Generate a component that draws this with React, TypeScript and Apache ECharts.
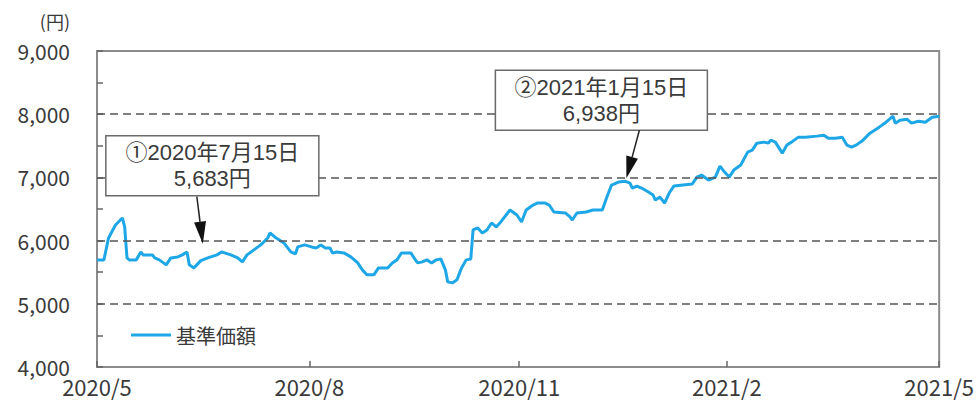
import React, { useEffect, useRef } from "react";
import * as echarts from "echarts";

// ---- data ----
const seriesName = "基準価額";
const unitLabel = "(円)";

const dates = [
  "2020-05-31", "2020-06-03", "2020-06-05", "2020-06-08", "2020-06-11", "2020-06-12", "2020-06-13", "2020-06-14",
  "2020-06-17", "2020-06-19", "2020-06-20", "2020-06-24", "2020-06-25", "2020-06-27", "2020-06-30", "2020-07-02",
  "2020-07-05", "2020-07-07", "2020-07-09", "2020-07-10", "2020-07-12", "2020-07-15", "2020-07-18", "2020-07-22",
  "2020-07-24", "2020-07-28", "2020-07-31", "2020-08-02", "2020-08-04", "2020-08-07", "2020-08-10", "2020-08-13",
  "2020-08-14", "2020-08-16", "2020-08-20", "2020-08-23", "2020-08-25", "2020-08-26", "2020-08-29", "2020-09-01",
  "2020-09-03", "2020-09-05", "2020-09-07", "2020-09-09", "2020-09-10", "2020-09-12", "2020-09-15", "2020-09-18",
  "2020-09-21", "2020-09-23", "2020-09-25", "2020-09-28", "2020-09-30", "2020-10-02", "2020-10-04", "2020-10-06",
  "2020-10-08", "2020-10-10", "2020-10-14", "2020-10-16", "2020-10-17", "2020-10-19", "2020-10-21", "2020-10-23",
  "2020-10-25", "2020-10-27", "2020-10-29", "2020-10-30", "2020-11-01", "2020-11-03", "2020-11-05", "2020-11-07",
  "2020-11-09", "2020-11-10", "2020-11-12", "2020-11-14", "2020-11-16", "2020-11-18", "2020-11-20", "2020-11-22",
  "2020-11-26", "2020-11-29", "2020-12-01", "2020-12-03", "2020-12-06", "2020-12-08", "2020-12-11", "2020-12-13",
  "2020-12-15", "2020-12-20", "2020-12-22", "2020-12-23", "2020-12-25", "2020-12-29", "2021-01-01", "2021-01-05",
  "2021-01-07", "2021-01-09", "2021-01-12", "2021-01-15", "2021-01-17", "2021-01-18", "2021-01-20", "2021-01-22",
  "2021-01-25", "2021-01-27", "2021-01-28", "2021-01-30", "2021-02-01", "2021-02-03", "2021-02-05", "2021-02-09",
  "2021-02-13", "2021-02-15", "2021-02-17", "2021-02-20", "2021-02-23", "2021-02-25", "2021-02-27", "2021-03-01",
  "2021-03-03", "2021-03-06", "2021-03-09", "2021-03-11", "2021-03-13", "2021-03-16", "2021-03-18", "2021-03-19",
  "2021-03-21", "2021-03-24", "2021-03-26", "2021-03-28", "2021-03-31", "2021-04-03", "2021-04-08", "2021-04-11",
  "2021-04-13", "2021-04-16", "2021-04-19", "2021-04-21", "2021-04-23", "2021-04-25", "2021-04-28", "2021-05-01",
  "2021-05-05", "2021-05-08", "2021-05-11", "2021-05-12", "2021-05-14", "2021-05-17", "2021-05-19", "2021-05-22",
  "2021-05-25", "2021-05-28", "2021-05-31",
];

const values = [
  5695, 5695, 6042, 6247, 6358, 6216, 5726, 5695,
  5695, 5821, 5774, 5774, 5726, 5695, 5616, 5726,
  5742, 5774, 5821, 5616, 5568, 5683, 5726, 5774,
  5821, 5774, 5726, 5663, 5774, 5853, 5932, 6042,
  6121, 6058, 5963, 5821, 5789, 5900, 5932, 5900,
  5884, 5932, 5884, 5884, 5805, 5821, 5805, 5742,
  5647, 5537, 5458, 5458, 5568, 5568, 5568, 5647,
  5695, 5805, 5805, 5695, 5647, 5663, 5695, 5647,
  5695, 5710, 5537, 5347, 5331, 5379, 5568, 5695,
  5710, 6168, 6200, 6121, 6168, 6279, 6216, 6295,
  6484, 6405, 6295, 6484, 6563, 6595, 6595, 6563,
  6453, 6437, 6374, 6326, 6437, 6453, 6484, 6484,
  6689, 6879, 6926, 6938, 6910, 6832, 6863, 6832,
  6768, 6721, 6642, 6689, 6595, 6753, 6863, 6879,
  6895, 7005, 7037, 6958, 7005, 7179, 7084, 7005,
  7116, 7195, 7400, 7432, 7542, 7558, 7542, 7589,
  7558, 7384, 7511, 7558, 7637, 7637, 7653, 7668,
  7621, 7621, 7637, 7511, 7479, 7511, 7589, 7700,
  7795, 7874, 7968, 7858, 7905, 7921, 7858, 7889,
  7874, 7953, 7968,
];

const xMinDate = "2020-05-31";
const xMaxDate = "2021-05-31";
const xTickDates = ["2020-05-31", "2020-08-31", "2020-11-30", "2021-02-28", "2021-05-31"];
const xTickLabels = ["2020/5", "2020/8", "2020/11", "2021/2", "2021/5"];

const yMin = 4000;
const yMax = 9000;
const yStep = 1000;
const gridValues = [5000, 6000, 7000, 8000];

const annotationDates = ["2020-07-15", "2021-01-15"];
const annotationValues = [5683, 6938];
const annotationTitles = ["①2020年7月15日", "②2021年1月15日"];
const annotationValueLabels = ["5,683円", "6,938円"];

// ---- layout (pixels, relative to the annotated point) ----
const annotationLayout = [
  { boxDx: -95, boxDy: -125, w: 213, h: 60, fromDx: -4, fromDy: -64, tipDx: 2, tipDy: -17 },
  { boxDx: -130, boxDy: -111, w: 212, h: 60, fromDx: 14, fromDy: -51, tipDx: 1, tipDy: -3 },
];

const FONT = '"Noto Sans CJK JP", "Noto Sans", sans-serif';
const NOTE_FONT = '"Liberation Sans", "Noto Sans CJK JP", sans-serif';
const TEXT = "#3a3a3a";
const FRAME = "#8c8c8c";
const LINE = "#1ea7e6";

const toTs = (s: string) => {
  const [y, m, d] = s.split("-").map(Number);
  return new Date(y, m - 1, d).getTime();
};

const fmtThousands = (v: number) => String(v).replace(/\B(?=(\d{3})+(?!\d))/g, ",");

export default function App() {
  const ref = useRef<HTMLDivElement>(null);

  useEffect(() => {
    if (!ref.current) return;
    const chart = echarts.init(ref.current, undefined, { renderer: "svg" });
    const tickTs = xTickDates.map(toTs);

    chart.setOption({
      animation: false,
      textStyle: { fontFamily: FONT },
      grid: {
        left: 97,
        right: 37,
        top: 51,
        bottom: 38,
        show: true,
        borderColor: FRAME,
        borderWidth: 2,
      },
      legend: {
        data: [seriesName],
        left: 126,
        top: 320,
        icon: "rect",
        itemWidth: 40,
        itemHeight: 3,
        itemGap: 6,
        textStyle: { fontSize: 20, color: TEXT, fontFamily: FONT },
      },
      xAxis: {
        type: "value",
        min: toTs(xMinDate),
        max: toTs(xMaxDate),
        axisLine: { show: true, lineStyle: { color: FRAME, width: 2 } },
        axisTick: {
          show: true,
          inside: true,
          length: 6,
          customValues: tickTs,
          lineStyle: { color: "#666", width: 1.5 },
        },
        axisLabel: {
          customValues: tickTs,
          showMinLabel: true,
          showMaxLabel: true,
          fontSize: 22,
          color: TEXT,
          fontFamily: FONT,
          margin: 8,
          formatter: (v: number) => {
            const i = tickTs.findIndex((t) => Math.abs(t - v) < 86400000);
            return i >= 0 ? xTickLabels[i] : "";
          },
        },
        splitLine: { show: false },
      },
      yAxis: {
        type: "value",
        min: yMin,
        max: yMax,
        interval: yStep,
        axisLine: { show: true, lineStyle: { color: FRAME, width: 2 } },
        axisTick: { show: true, inside: true, length: 6, lineStyle: { color: "#666", width: 1.5 } },
        minorTick: { show: true, splitNumber: 2, length: 6, lineStyle: { color: "#666", width: 1.5 } },
        axisLabel: {
          fontSize: 21,
          color: TEXT,
          fontFamily: FONT,
          margin: 27,
          formatter: (v: number) => fmtThousands(v),
        },
        splitLine: { show: false },
      },
      series: [
        {
          name: "grid",
          type: "line",
          data: [],
          z: 1,
          silent: true,
          markLine: {
            silent: true,
            symbol: ["none", "none"],
            label: { show: false },
            lineStyle: { type: [8, 5], color: "#555", width: 1.5 },
            data: gridValues.map((v) => ({ yAxis: v })),
          },
        },
        {
          name: seriesName,
          type: "line",
          z: 3,
          showSymbol: false,
          symbol: "none",
          lineStyle: { color: LINE, width: 3 },
          itemStyle: { color: LINE },
          data: dates.map((d, i) => [toTs(d), values[i]]),
        },
      ],
    });

    const elements: any[] = [
      {
        type: "text",
        x: 70,
        y: 21,
        z: 10,
        style: {
          text: unitLabel,
          fontSize: 18,
          fontFamily: FONT,
          fill: TEXT,
          align: "right",
          textAlign: "right",
          verticalAlign: "middle",
          textVerticalAlign: "middle",
        },
      },
    ];

    annotationDates.forEach((d, i) => {
      const p = chart.convertToPixel({ gridIndex: 0 }, [toTs(d), annotationValues[i]]) as number[];
      const L = annotationLayout[i];
      const bx = p[0] + L.boxDx;
      const by = p[1] + L.boxDy;
      const fx = p[0] + L.fromDx;
      const fy = p[1] + L.fromDy;
      const tx = p[0] + L.tipDx;
      const ty = p[1] + L.tipDy;
      const dx = tx - fx;
      const dy = ty - fy;
      const len = Math.sqrt(dx * dx + dy * dy);
      const ux = dx / len;
      const uy = dy / len;
      const headLen = 22;
      const headW = 6;
      const hx = tx - ux * headLen;
      const hy = ty - uy * headLen;
      const textStyle = {
        fontSize: 22,
        fontFamily: NOTE_FONT,
        fill: TEXT,
        align: "center",
        textAlign: "center",
        verticalAlign: "middle",
        textVerticalAlign: "middle",
      };
      elements.push(
        {
          type: "rect",
          z: 20,
          shape: { x: bx, y: by, width: L.w, height: L.h },
          style: { fill: "#fff", stroke: "#6a6a6a", lineWidth: 1.5 },
        },
        {
          type: "text",
          z: 21,
          x: bx + L.w / 2,
          y: by + 17,
          style: { ...textStyle, text: annotationTitles[i] },
        },
        {
          type: "text",
          z: 21,
          x: bx + L.w / 2,
          y: by + 43,
          style: { ...textStyle, text: annotationValueLabels[i] },
        },
        {
          type: "line",
          z: 21,
          shape: { x1: fx, y1: fy, x2: hx, y2: hy },
          style: { stroke: "#222", lineWidth: 1.5 },
        },
        {
          type: "polygon",
          z: 21,
          shape: {
            points: [
              [tx, ty],
              [hx - uy * headW, hy + ux * headW],
              [hx + uy * headW, hy - ux * headW],
            ],
          },
          style: { fill: "#111" },
        }
      );
    });

    chart.setOption({ graphic: { elements } });

    return () => chart.dispose();
  }, []);

  return (
    <div
      ref={ref}
      style={{ position: "fixed", left: 0, top: 0, width: 977, height: 405, background: "#fff" }}
    />
  );
}
